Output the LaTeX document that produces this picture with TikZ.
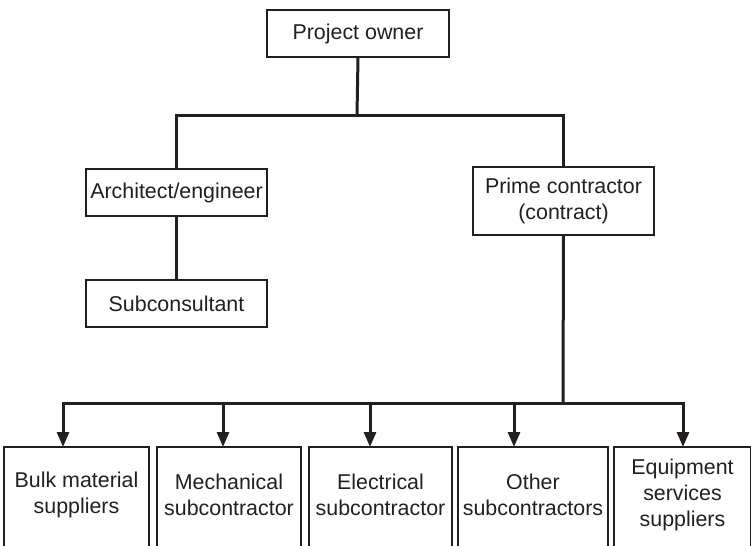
\documentclass[tikz,border=0pt]{standalone}
\usepackage{fontspec}
\setmainfont{Liberation Sans}
\usetikzlibrary{arrows.meta,calc}
\definecolor{ink}{HTML}{231F20}
\begin{document}
\begin{tikzpicture}[x=0.5pt,y=-0.5pt,
  box/.style={draw=ink,line width=1pt,fill=white,align=center,inner sep=0pt,
    font=\fontsize{10.7}{12.8}\selectfont,text=ink},
  lowbox/.style={box,draw=none,fill=none,minimum height=47pt},
  conn/.style={draw=ink,line width=1.5pt},
  bus/.style={conn,line cap=rect},
  arr/.style={conn,-{Triangle[length=7.5pt,width=6pt]}}]
\useasboundingbox (0,0) rectangle (751,546);
\clip (0,0) rectangle (751,546);
% upper boxes
\node[box,minimum width=91pt,minimum height=23.5pt] (owner) at (358,33.5) {Project owner};
\node[box,minimum width=90.5pt,minimum height=23.5pt] (arch) at (176.5,192.5) {Architect/engineer};
\node[box,minimum width=90.5pt,minimum height=23.5pt] (sub) at (176.5,303.5) {Subconsultant};
\node[box,minimum width=90.5pt,minimum height=34pt] (prime) at (563.5,201) {Prime contractor\\(contract)};
% lower boxes (cut off at the bottom edge)
\node[lowbox,minimum width=71.5pt] (b1) at (76.5,495) {Bulk material\\suppliers};
\node[lowbox,minimum width=71pt] (b2) at (229,495) {Mechanical\\subcontractor};
\node[lowbox,minimum width=70.5pt] (b3) at (380.5,495) {Electrical\\subcontractor};
\node[lowbox,minimum width=74pt] (b4) at (533,495) {Other\\subcontractors};
\node[lowbox,minimum width=67.5pt] (b5) at (682.5,495) {Equipment\\services\\suppliers};
\foreach \b in {b1,b2,b3,b4,b5}{
  \draw[ink,line width=1pt] ($(\b.south west)+(0,30)$) -- (\b.north west) -- (\b.north east) -- ($(\b.south east)+(0,30)$);
}
% upper connectors
\coordinate (busA) at (357,115);
\draw[conn] (owner.south) -- (busA);
\draw[bus] (arch.north |- busA) -- (prime.north |- busA);
\draw[conn] (arch.north |- busA) -- (arch.north);
\draw[conn] (prime.north |- busA) -- (prime.north);
\draw[conn] (arch.south) -- (sub.north);
% lower connectors
\coordinate (busB) at (563,403);
\coordinate (a1) at (63,403);
\coordinate (a2) at (223,403);
\coordinate (a3) at (370,403);
\coordinate (a4) at (514,403);
\coordinate (a5) at (683,403);
\draw[conn] (prime.south) -- (busB);
\draw[bus] (a1) -- (a5);
\foreach \i in {1,...,5}{
  \draw[arr] (a\i) -- (a\i |- b\i.north);
}
\end{tikzpicture}
\end{document}
